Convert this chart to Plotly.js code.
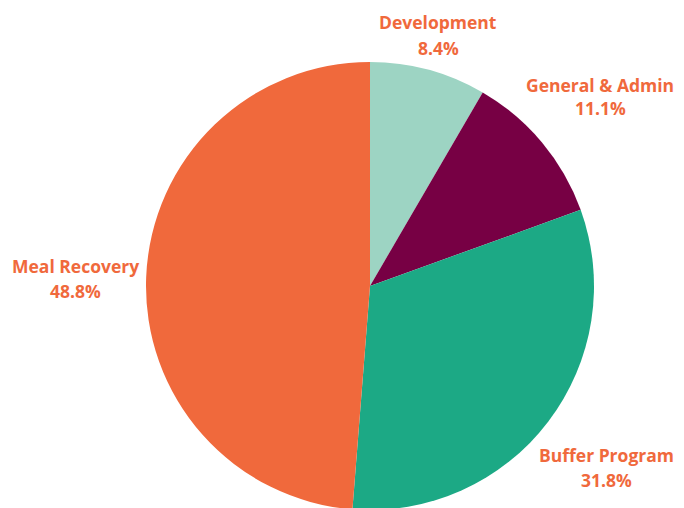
<!DOCTYPE html>
<html>
<head>
<meta charset="utf-8">
<script src="https://cdn.plot.ly/plotly-3.0.1.min.js"></script>
<style>html,body{margin:0;padding:0;overflow:hidden;background:#fff;}</style>
</head>
<body>
<div id="chart" style="width:684px;height:512px;"></div>
<script>
const categories = ["Development", "General & Admin", "Buffer Program", "Meal Recovery"];
const shares = [8.4, 11.1, 31.8, 48.8];
const sliceColors = ["#9dd4c3", "#770044", "#1ca985", "#f0693c"];

const W = 684, H = 512;
const cx = 370, cy = 286, r = 224;
// label centre positions in pixels: x, y of first line, gap to second line – style only
const labelPos = [[438, 22, 26], [600, 85, 23], [606, 455, 25], [75, 266, 25]];

const trace = {
  type: "pie",
  labels: categories,
  values: shares,
  sort: false,
  direction: "clockwise",
  rotation: 0,
  marker: {colors: sliceColors, line: {width: 0}},
  textinfo: "none",
  hoverinfo: "label+percent",
  showlegend: false,
  automargin: false,
  domain: {x: [(cx - r) / W, (cx + r) / W], y: [(H - cy - r) / H, (H - cy + r) / H]}
};

const font = {family: "'Open Sans', Lato, sans-serif", size: 17.5, color: "#f0693c", weight: "bold"};
const annotations = [];
categories.forEach((c, i) => {
  const [px, py, gap] = labelPos[i];
  annotations.push({xref: "paper", yref: "paper", x: px / W, y: 1 - py / H, text: c,
    showarrow: false, xanchor: "center", yanchor: "middle", font: font});
  annotations.push({xref: "paper", yref: "paper", x: px / W, y: 1 - (py + gap) / H,
    text: shares[i].toFixed(1) + "%", showarrow: false, xanchor: "center", yanchor: "middle", font: font});
});

Plotly.newPlot("chart", [trace], {
  width: W, height: H,
  margin: {l: 0, r: 0, t: 0, b: 0},
  paper_bgcolor: "#ffffff",
  plot_bgcolor: "#ffffff",
  showlegend: false,
  annotations: annotations
}, {displayModeBar: false, staticPlot: true});
</script>
</body>
</html>
